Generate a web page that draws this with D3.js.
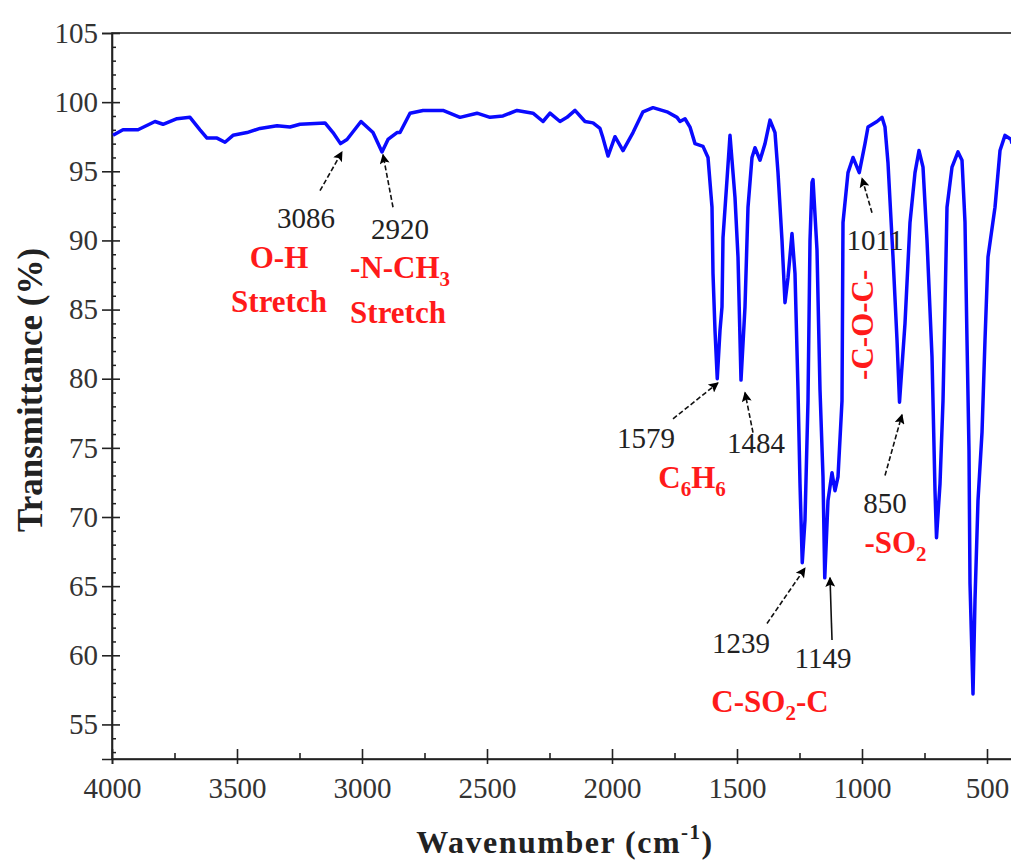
<!DOCTYPE html>
<html>
<head>
<meta charset="utf-8">
<script src="https://cdn.jsdelivr.net/npm/d3@7"></script>
<style>
  html, body { margin: 0; padding: 0; background: #fff; }
  svg { display: block; }
  text { font-family: "Liberation Serif", "Times New Roman", serif; }
</style>
</head>
<body>
<svg id="chart" width="1011" height="862"></svg>
<script>
// ---------------- data ----------------
const wavenumbers = [3996,3956,3896,3828,3796,3740,3688,3648,3620,3580,3548,3516,3460,3408,3340,3288,3248,3148,3116,3086,3060,3004,2956,2920,2896,2860,2848,2808,2756,2676,2608,2540,2488,2436,2380,2316,2276,2248,2208,2180,2148,2108,2076,2048,2036,2016,1988,1956,1916,1876,1836,1780,1740,1728,1708,1688,1668,1636,1616,1600,1596,1588,1579,1568,1560,1556,1540,1528,1508,1496,1484,1468,1456,1440,1428,1408,1388,1368,1348,1336,1320,1308,1296,1280,1268,1256,1248,1239,1228,1216,1208,1200,1196,1180,1168,1156,1149,1136,1120,1108,1096,1080,1076,1056,1036,1011,988,976,940,920,908,896,876,860,850,828,808,788,772,756,740,720,708,702,688,676,668,660,640,616,600,588,580,572,568,556,548,536,520,508,496,468,448,428,404,400];
const transmittance = [97.6,98.0,98.0,98.6,98.4,98.8,98.9,98.0,97.4,97.4,97.1,97.6,97.8,98.1,98.3,98.2,98.4,98.5,97.8,97.0,97.3,98.6,97.8,96.4,97.3,97.8,97.8,99.2,99.4,99.4,98.9,99.2,98.9,99.0,99.4,99.2,98.6,99.2,98.6,98.9,99.4,98.6,98.5,98.1,97.4,96.1,97.5,96.5,97.8,99.3,99.6,99.3,98.9,98.6,98.8,98.2,97.0,96.8,96.0,92.4,87.6,83.5,80.0,83.5,85.2,90.2,94.4,97.6,93.1,88.8,79.9,85.2,92.4,96.0,96.7,95.8,97.0,98.7,97.8,94.9,90.0,85.5,87.3,90.5,87.6,79.2,72.4,66.7,69.8,78.4,90.0,94.2,94.4,89.3,79.2,72.9,65.6,71.2,73.2,71.9,72.9,78.4,91.3,94.9,96.0,94.9,97.0,98.2,98.6,98.9,98.2,95.6,88.8,82.8,78.3,84.0,91.3,94.9,96.5,95.3,90.0,81.6,71.9,68.5,72.4,78.4,85.2,92.4,95.3,96.4,95.8,91.3,82.8,74.8,65.2,57.2,64.0,71.2,76.1,82.8,88.8,92.4,96.5,97.6,97.3,97.0];

const xMajorTicks = [4000,3500,3000,2500,2000,1500,1000,500];
const xMinorTicks = [3750,3250,2750,2250,1750,1250,750];
const yMajorTicks = [55,60,65,70,75,80,85,90,95,100,105];
const yMinorTicks = d3.range(53,105,1).filter(v => v % 5 !== 0);

// peak number labels: [label, head wn, head T, tail wn, tail T, text wn, text T, dashed]
const peakLabels   = ["3086","2920","1579","1484","1239","1149","1011","850"];
const arrowHeadWn  = [3080, 2916, 1576, 1468, 1228, 1128, 1000, 840];
const arrowHeadT   = [96.4, 96.2, 79.7, 79.0, 66.3, 65.6, 94.5, 77.4];
const arrowTailWn  = [3168, 2876, 1756, 1436, 1380, 1120, 960, 908];
const arrowTailT   = [93.6, 92.4, 77.1, 76.1, 62.3, 61.1, 92.0, 73.0];
const peakTextWn   = [3224, 2848, 1864, 1424, 1484, 1156, 948, 908];
const peakTextT    = [90.9, 90.1, 75.0, 74.6, 60.2, 59.05, 89.3, 70.3];
const arrowDashed  = [true, true, true, true, true, false, true, true];

// group (red) labels: parts [text, sub?]
const groupLabels = [
  {parts:[["O-H",0]], wn:3332, t:88.0, rot:false},
  {parts:[["Stretch",0]], wn:3332, t:84.8, rot:false},
  {parts:[["-N-CH",0],["3",1]], wn:2848, t:87.3, rot:false},
  {parts:[["Stretch",0]], wn:2856, t:84.0, rot:false},
  {parts:[["C",0],["6",1],["H",0],["6",1]], wn:1680, t:72.1, rot:false},
  {parts:[["C-SO",0],["2",1],["-C",0]], wn:1368, t:55.9, rot:false},
  {parts:[["-SO",0],["2",1]], wn:866, t:67.4, rot:false},
  {parts:[["-C-O-C-",0]], wn:1000, t:83.9, rot:true}
];

// ---------------- layout ----------------
const margin = {left:112, top:33};
const W = 900, H = 726;
const svg = d3.select("#chart");
const g = svg.append("g").attr("transform", `translate(${margin.left},${margin.top})`);

const x = d3.scaleLinear().domain([4000, 400]).range([0, W]);
const y = d3.scaleLinear().domain([52.5, 105]).range([H, 0]);

svg.append("defs").append("clipPath").attr("id","plotclip")
  .append("rect").attr("x",0).attr("y",0).attr("width",W).attr("height",H);

const marker = svg.select("defs").append("marker")
  .attr("id","arrowhead").attr("viewBox","0 0 10 10")
  .attr("refX",9).attr("refY",5)
  .attr("markerWidth",13).attr("markerHeight",10)
  .attr("markerUnits","userSpaceOnUse")
  .attr("orient","auto");
marker.append("path").attr("d","M0,0 L10,5 L0,10 L2,5 Z").attr("fill","#000");

// frame
g.append("rect").attr("x",0).attr("y",0).attr("width",W).attr("height",H)
  .attr("fill","none").attr("stroke","#222").attr("stroke-width",1.6);

// y axis
const yAxis = g.append("g").call(d3.axisLeft(y).tickValues(yMajorTicks).tickSize(10).tickPadding(4).tickFormat(d3.format("d")));
yAxis.selectAll(".tick line").attr("x1", 8).attr("stroke","#222").attr("stroke-width",1.6);
yAxis.select(".domain").attr("stroke","#222").attr("stroke-width",1.6);
yAxis.selectAll(".tick text").attr("font-size",29).attr("fill","#333").attr("font-family","Liberation Serif, serif");
const yMinor = g.append("g").call(d3.axisLeft(y).tickValues(yMinorTicks).tickSize(-4).tickFormat(""));
yMinor.select(".domain").remove();
yMinor.selectAll(".tick line").attr("stroke","#222").attr("stroke-width",1.5);

// x axis
const xAxis = g.append("g").attr("transform",`translate(0,${H})`)
  .call(d3.axisBottom(x).tickValues(xMajorTicks).tickSize(5).tickPadding(13).tickFormat(d3.format("d")));
xAxis.selectAll(".tick line").attr("y1",-10).attr("stroke","#222").attr("stroke-width",1.6);
xAxis.select(".domain").attr("stroke","#222").attr("stroke-width",1.6);
xAxis.selectAll(".tick text").attr("font-size",29).attr("fill","#333").attr("font-family","Liberation Serif, serif");
const xMinor = g.append("g").attr("transform",`translate(0,${H})`)
  .call(d3.axisBottom(x).tickValues(xMinorTicks).tickSize(-6).tickFormat(""));
xMinor.select(".domain").remove();
xMinor.selectAll(".tick line").attr("stroke","#222").attr("stroke-width",1.6);

// spectrum
const pts = wavenumbers.map((w,i) => [w, transmittance[i]]);
g.append("path").datum(pts)
  .attr("clip-path","url(#plotclip)")
  .attr("fill","none").attr("stroke","#0a0aff").attr("stroke-width",3.5)
  .attr("stroke-linejoin","round")
  .attr("d", d3.line().x(d => x(d[0])).y(d => y(d[1])));

// arrows & peak numbers
peakLabels.forEach((lab,i) => {
  g.append("line")
    .attr("x1", x(arrowTailWn[i])).attr("y1", y(arrowTailT[i]))
    .attr("x2", x(arrowHeadWn[i])).attr("y2", y(arrowHeadT[i]))
    .attr("stroke","#111").attr("stroke-width",1.6)
    .attr("stroke-dasharray", arrowDashed[i] ? "5,2.5" : null)
    .attr("marker-end","url(#arrowhead)");
  g.append("text").attr("x", x(peakTextWn[i])).attr("y", y(peakTextT[i]))
    .attr("text-anchor","middle").attr("font-size",29).attr("fill","#222")
    .text(lab);
});

// red group labels
groupLabels.forEach(gl => {
  const px = x(gl.wn), py = y(gl.t);
  const t = g.append("text")
    .attr("text-anchor","middle").attr("font-size",31).attr("font-weight","bold")
    .attr("fill","#ff1a1a");
  if (gl.rot) {
    t.attr("transform",`translate(${px},${py}) rotate(-90)`).attr("dominant-baseline","central");
  } else {
    t.attr("x",px).attr("y",py);
  }
  gl.parts.forEach(p => {
    const ts = t.append("tspan").text(p[0]);
    if (p[1]) ts.attr("font-size",21).attr("dy",8);
    else if (t.selectAll("tspan").size() > 1) ts.attr("dy",-8);
  });
});

// axis titles
svg.append("text")
  .attr("transform",`translate(42,${margin.top + H/2 - 6}) rotate(-90)`)
  .attr("text-anchor","middle").attr("font-size",35).attr("font-weight","bold").attr("fill","#222")
  .text("Transmittance (%)");

const xt = svg.append("text")
  .attr("x", margin.left + W/2 + 3).attr("y", 853)
  .attr("text-anchor","middle").attr("font-size",32).attr("font-weight","bold").attr("fill","#222")
  .attr("letter-spacing", 1.5);
xt.append("tspan").text("Wavenumber (cm");
xt.append("tspan").text("-1").attr("font-size",21).attr("dy",-14);
xt.append("tspan").text(")").attr("dy",14);
</script>
</body>
</html>
